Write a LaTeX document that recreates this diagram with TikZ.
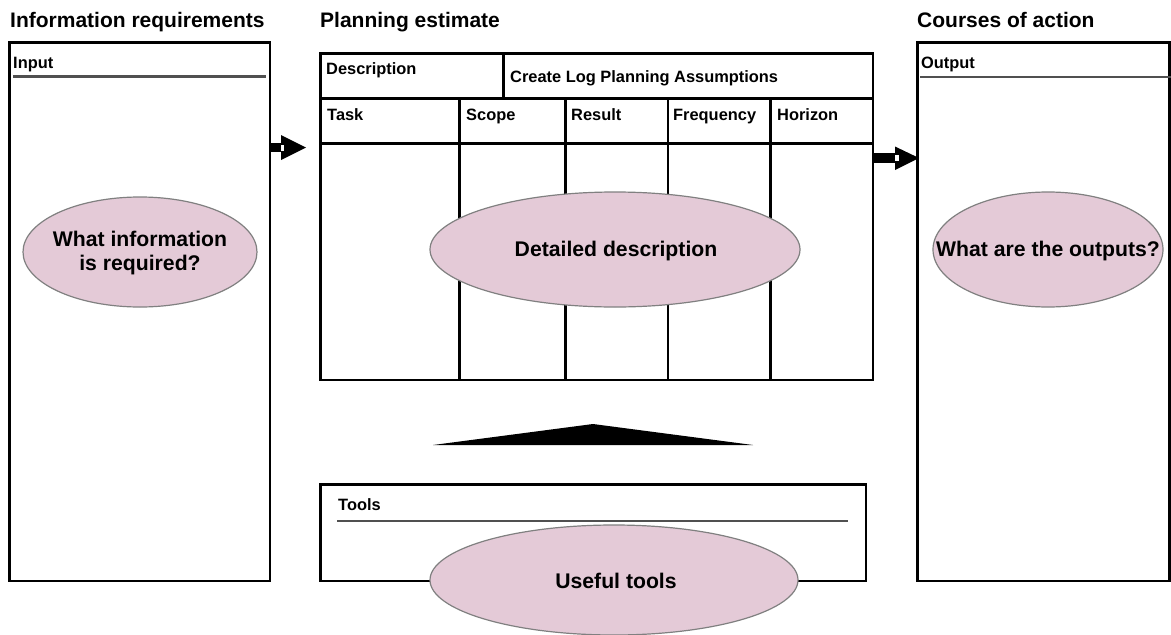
\documentclass[tikz,border=0pt]{standalone}
\usepackage{fontspec}
\setmainfont{Liberation Sans}
\definecolor{pinkfill}{RGB}{228,202,215}
\definecolor{sepgray}{RGB}{80,80,80}
\tikzset{
  boxline/.style={draw=black, line width=2.8pt},
  sepline/.style={draw=sepgray, line width=2.2pt},
  bubble/.style={fill=pinkfill, draw=gray, line width=1.2pt},
  bubbletext/.style={inner sep=0pt, align=center, font=\bfseries\fontsize{21.2}{24.5}\selectfont},
  heading/.style={anchor=base west, inner sep=0pt, font=\bfseries\fontsize{21}{24}\selectfont},
  lab/.style={anchor=base west, inner sep=0pt, font=\bfseries\fontsize{16.4}{19}\selectfont},
  blockarrow/.style={fill=black, draw=none}
}
\begin{document}
\begin{tikzpicture}[x=1pt,y=-1pt]
\useasboundingbox (0,0) rectangle (1171,635);
\fill[white] (0,0) rectangle (1171,635);

% headings
\node[heading] (h1) at (10,27) {Information requirements};
\node[heading] (h2) at (320,27) {Planning estimate};
\node[heading] (h3) at (917,27) {Courses of action};

% left input box
\draw[boxline] (9.5,42.5) rectangle (270,581);
\draw[sepline] (13,76.5) -- (266,76.5);
\node[lab] (inlab) at (13,68) {Input};

% right output box
\draw[boxline] (917.5,42.5) rectangle (1169.5,581);
\draw[sepline] (920,77) -- (1171,77);
\node[lab] (outlab) at (921,68) {Output};

% planning table
\draw[boxline] (320.5,53.5) rectangle (873,380);
\draw[boxline] (320.5,98.5) -- (873,98.5);
\draw[boxline] (320.5,143.5) -- (873,143.5);
\draw[boxline] (503.5,53.5) -- (503.5,98.5);
\foreach \cx in {459.5,565.5,668,770.5}{
  \draw[boxline] (\cx,98.5) -- (\cx,380);
}
\node[lab] (desc) at (326,74) {Description};
\node[lab] (create) at (510,82) {Create Log Planning Assumptions};
\node[lab] (task) at (327,120) {Task};
\node[lab] (scope) at (466,120) {Scope};
\node[lab] (result) at (571,120) {Result};
\node[lab] (freq) at (673,120) {Frequency};
\node[lab] (hor) at (777,120) {Horizon};

% tools box
\draw[boxline] (320.5,484.5) rectangle (866,581);
\draw[sepline] (337,521) -- (848,521);
\node[lab] (tools) at (338,510) {Tools};

% bubbles
\draw[bubble] (140,252) ellipse [x radius=117, y radius=55];
\node[bubbletext] (e1) at (140,253) {What information\\is required?};
\draw[bubble] (615,249.5) ellipse [x radius=185, y radius=57.5];
\node[bubbletext] (e2) at (616,251) {Detailed description};
\draw[bubble] (1048,249.5) ellipse [x radius=115, y radius=57.5];
\node[bubbletext] (e3) at (1048,251) {What are the outputs?};
\draw[bubble] (614,580) ellipse [x radius=184, y radius=55];
\node[bubbletext] (e4) at (616,581) {Useful tools};

% left block arrow
\fill[blockarrow] (270,143) rectangle (281,152);
\fill[blockarrow] (281,135) -- (306,147.5) -- (281,160) -- cycle;
\fill[white] (281,144.5) rectangle (284,150.5);

% right block arrow
\fill[blockarrow] (873,153) rectangle (895,163);
\fill[blockarrow] (895,146.5) -- (919,158) -- (895,170) -- cycle;
\fill[white] (895,155) rectangle (899,161);

% tools triangle
\fill[black] (433,445) -- (593,424) -- (753,445) -- cycle;
\end{tikzpicture}
\end{document}
